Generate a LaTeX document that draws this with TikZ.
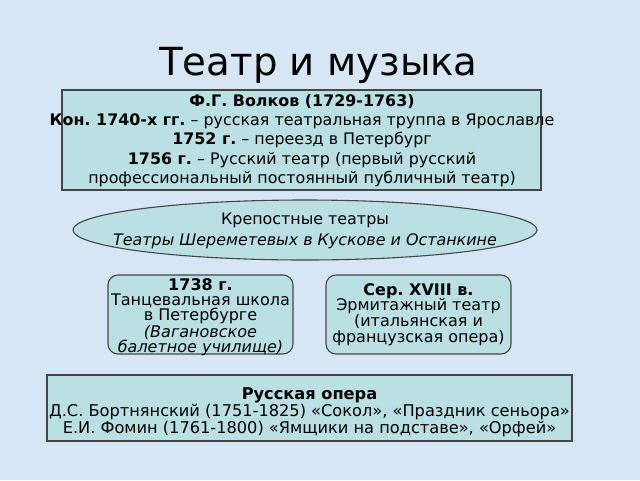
\documentclass[tikz,border=0pt]{standalone}
\usepackage{fontspec}
\setmainfont{DejaVu Sans}
\usetikzlibrary{shapes.geometric}
\definecolor{bg}{RGB}{214,230,245}
\definecolor{boxfill}{RGB}{186,224,228}
\definecolor{edgecol}{RGB}{70,70,70}
\frenchspacing
\begin{document}
\begin{tikzpicture}[x=1pt,y=-1pt,
  frame/.style={draw=edgecol, line width=1.1pt, fill=boxfill, inner sep=0pt},
  txt/.style={align=center, inner sep=0pt, text=black}]
\fill[bg] (0,0) rectangle (640,480);
\useasboundingbox (0,0) rectangle (640,480);
\node[txt, anchor=base, font=\fontsize{38.7}{46}\selectfont] (title) at (318.5,75) {Театр и музыка};
% Volkov box
\node[frame, minimum width=479pt, minimum height=100pt] (volkovbox) at (301.5,140) {};
\node[txt, font=\fontsize{15.9}{19.3}\selectfont] (volkovtext) at (302,140.5)
 {\textbf{Ф.Г. Волков (1729-1763)}\\
  \textbf{Кон. 1740-х гг.} – русская театральная труппа в Ярославле\\
  \textbf{1752 г.} – переезд в Петербург\\
  \textbf{1756 г.} – Русский театр (первый русский\\
  профессиональный постоянный публичный театр)};
% ellipse
\node[frame, ellipse, minimum width=464pt, minimum height=60pt] (serfbox) at (305,230) {};
\node[txt, font=\fontsize{15.9}{21}\selectfont] (serftext) at (305,231)
 {Крепостные театры\\ \textit{Театры Шереметевых в Кускове и Останкине}};
% rounded boxes
\node[frame, rounded corners=10pt, minimum width=185pt, minimum height=79pt] (dancebox) at (200.5,314.5) {};
\node[txt, font=\fontsize{16}{14.5}\selectfont] (dancetext) at (200.5,317.5)
 {\textbf{1738 г.}\\ Танцевальная школа\\ в Петербурге\\ \textit{(Вагановское}\\ \textit{балетное училище)}};
\node[frame, rounded corners=10pt, minimum width=185pt, minimum height=79pt] (hermbox) at (418.5,314.5) {};
\node[txt, font=\fontsize{16}{15.6}\selectfont] (hermtext) at (418.5,314.5)
 {\textbf{Сер. XVIII в.}\\ Эрмитажный театр\\ (итальянская и\\ французская опера)};
% opera box
\node[frame, minimum width=525pt, minimum height=66pt] (operabox) at (309.5,408) {};
\node[txt, font=\fontsize{16.2}{14.5}\selectfont] (operatext) at (309.5,412.5)
 {\textbf{Русская опера}\\
  Д.С. Бортнянский (1751-1825) «Сокол», «Праздник сеньора»\\
  Е.И. Фомин (1761-1800) «Ямщики на подставе», «Орфей»};
\end{tikzpicture}
\end{document}
